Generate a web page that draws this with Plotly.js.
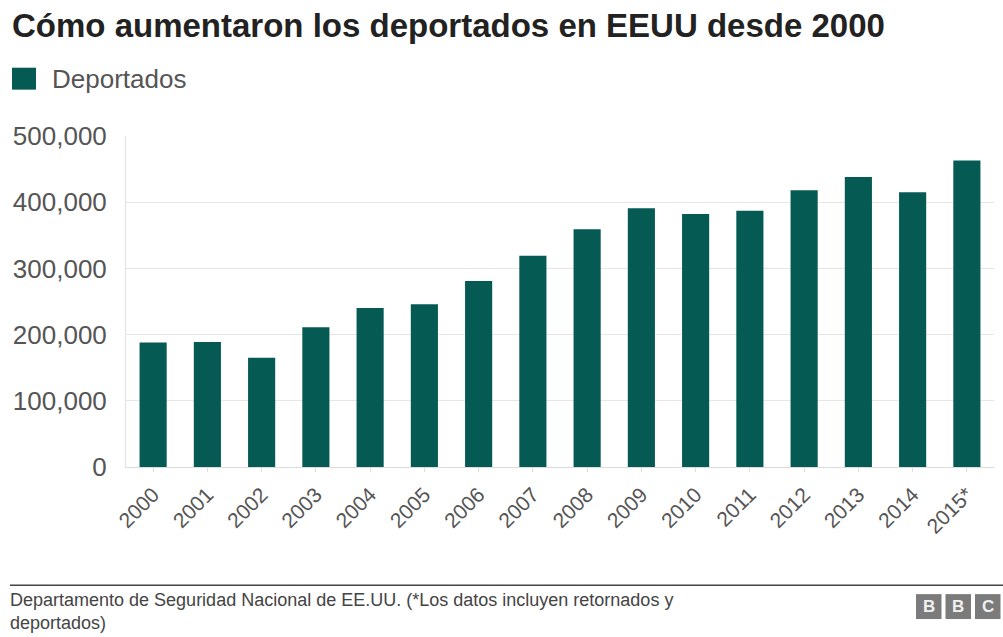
<!DOCTYPE html>
<html>
<head>
<meta charset="utf-8">
<script src="https://cdn.plot.ly/plotly-3.0.1.min.js"></script>
<style>html,body{margin:0;padding:0;background:#fff;}#chart{width:1003px;height:637px;}</style>
</head>
<body>
<div id="chart"></div>
<script>
const years = ['2000','2001','2002','2003','2004','2005','2006','2007','2008','2009','2010','2011','2012','2013','2014','2015*'];
const deportados = [188000,189000,165000,211000,240000,246000,281000,319000,359000,391000,382000,387000,418000,438000,415000,463000];
const yTicks = [0,100000,200000,300000,400000,500000];
const titleText = 'Cómo aumentaron los deportados en EEUU desde 2000';
const legendText = 'Deportados';
const sourceLine1 = 'Departamento de Seguridad Nacional de EE.UU. (*Los datos incluyen retornados y';
const sourceLine2 = 'deportados)';
const logoLetters = ['B','B','C'];

const W = 1003, H = 637;
const M = {l:126, r:9, t:135.5, b:169.5};
const PW = W - M.l - M.r, PH = H - M.t - M.b;
const px = x => (x - M.l) / PW;
const py = y => (H - M.b - y) / PH;

const FONT = 'Liberation Sans, Arial, Helvetica, sans-serif';
const BAR = '#065a54';

const shapes = [
  {type:'rect', xref:'paper', yref:'paper', x0:px(12), x1:px(36), y0:py(89), y1:py(67), fillcolor:BAR, line:{width:0}},
  {type:'line', xref:'paper', yref:'paper', x0:px(10), x1:px(1003), y0:py(586), y1:py(586), line:{color:'#444', width:1.5}}
];
const annotations = [
  {xref:'paper', yref:'paper', x:px(10), y:py(25), xanchor:'left', yanchor:'middle', showarrow:false,
   text:'<b>'+titleText+'</b>', font:{family:FONT, size:33, color:'#222'}},
  {xref:'paper', yref:'paper', x:px(50), y:py(78), xanchor:'left', yanchor:'middle', showarrow:false,
   text:legendText, font:{family:FONT, size:26, color:'#555'}},
  {xref:'paper', yref:'paper', x:px(8), y:py(636.5), xanchor:'left', yanchor:'bottom', showarrow:false, align:'left',
   text:sourceLine1 + '<br>' + sourceLine2, font:{family:FONT, size:18, color:'#444'}}
];
logoLetters.forEach((L, i) => {
  const x0 = 916 + i*29.5, x1 = x0 + 25.5;
  shapes.push({type:'rect', xref:'paper', yref:'paper', x0:px(x0), x1:px(x1), y0:py(620), y1:py(595), fillcolor:'#7b7b7b', line:{width:0}});
  annotations.push({xref:'paper', yref:'paper', x:px((x0+x1)/2), y:py(607.5), xanchor:'center', yanchor:'middle', showarrow:false,
    text:'<b>'+L+'</b>', font:{family:FONT, size:17, color:'#f0f0f0'}});
});

const data = [{
  type:'bar', x:years, y:deportados, name:legendText,
  marker:{color:BAR, line:{width:0}}, hoverinfo:'x+y'
}];

const layout = {
  width:W, height:H,
  margin:M,
  paper_bgcolor:'#fff', plot_bgcolor:'#fff',
  showlegend:false,
  bargap:0.5,
  font:{family:FONT},
  xaxis:{
    type:'category', tickangle:-45,
    tickfont:{family:FONT, size:21, color:'#555'},
    showgrid:false, showline:true, linecolor:'#dcdcdc', linewidth:1,
    ticks:'outside', ticklen:4, tickcolor:'#dcdcdc',
    ticklabelstandoff:2, zeroline:false, fixedrange:true
  },
  yaxis:{
    range:[0,500000], tickvals:yTicks, tickformat:',',
    tickfont:{family:FONT, size:26, color:'#555'},
    showgrid:true, gridcolor:'#e6e6e6', gridwidth:1,
    showline:true, linecolor:'#e0e0e0', linewidth:1,
    zeroline:false, ticks:'', ticklabelstandoff:13, fixedrange:true
  },
  shapes:shapes,
  annotations:annotations
};

Plotly.newPlot('chart', data, layout, {displayModeBar:false, staticPlot:true});
</script>
</body>
</html>
